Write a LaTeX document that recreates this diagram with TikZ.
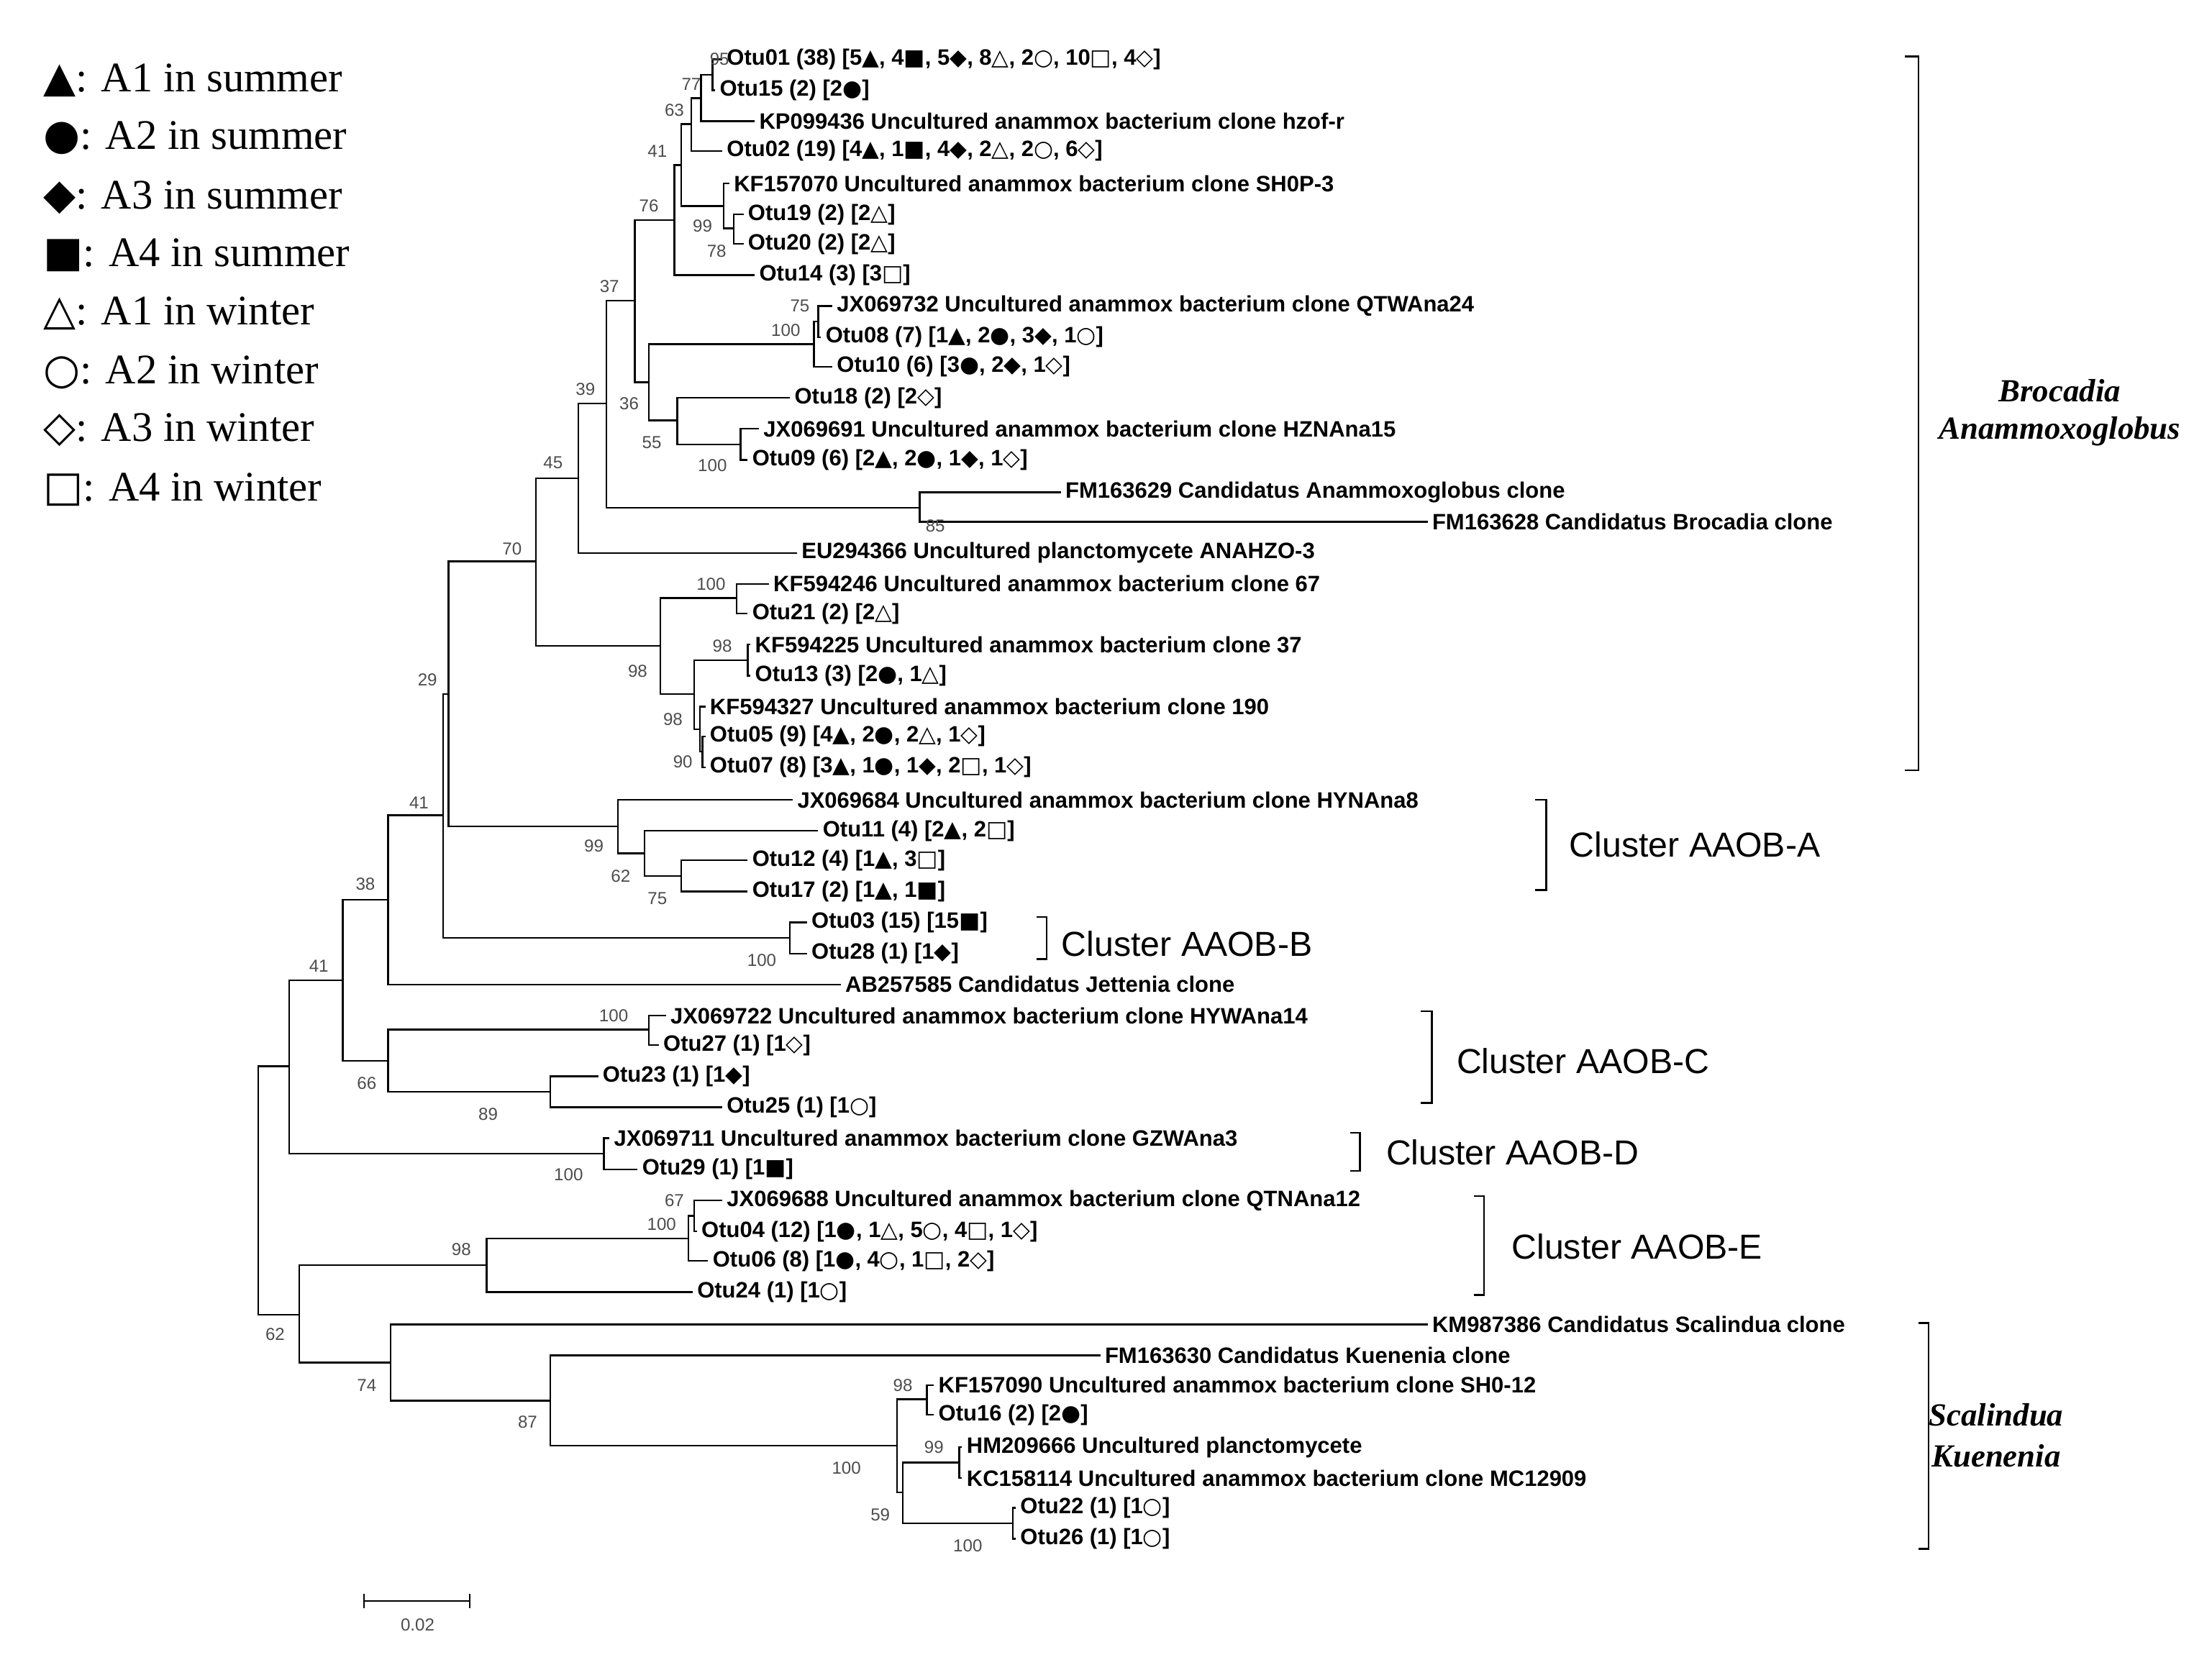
\documentclass[tikz,border=0pt]{standalone}
\usepackage{fontspec}
\setmainfont{Liberation Serif}
\newfontfamily\lbl{Liberation Sans}
\newfontfamily\symf{DejaVu Sans}
\usetikzlibrary{calc}
\newcommand{\trs}{{\symf ▲}}
\newcommand{\cis}{{\symf ●}}
\newcommand{\dis}{{\symf ◆}}
\newcommand{\sqs}{{\symf ■}}
\newcommand{\tro}{{\symf △}}
\newcommand{\cio}{{\symf ○}}
\newcommand{\dio}{{\symf ◇}}
\newcommand{\sqo}{{\symf □}}
\tikzstyle{leaf}=[anchor=west, inner sep=1.5pt, font=\fontsize{9}{10}\selectfont\lbl\bfseries]
\tikzstyle{boot}=[inner sep=0pt, text=black!70, font=\fontsize{7}{8}\selectfont\lbl]
\tikzstyle{legend}=[anchor=west, inner sep=0pt, font=\fontsize{17}{19}\selectfont]
\tikzstyle{clust}=[anchor=west, inner sep=0pt, font=\fontsize{14}{16}\selectfont\lbl]
\tikzstyle{genus}=[inner sep=0pt, font=\fontsize{13}{15}\selectfont\bfseries\itshape]

\begin{document}
\begin{tikzpicture}[x=0.02cm, y=-0.02cm, line width=0.7pt]
  \useasboundingbox (0,0) rectangle (1568,1180);
  % legend
  \node[legend] (g1) at (30,57)  {\trs: A1 in summer};
  \node[legend] (g2) at (30,98)  {\cis: A2 in summer};
  \node[legend] (g3) at (30,140) {\dis: A3 in summer};
  \node[legend] (g4) at (30,181) {\sqs: A4 in summer};
  \node[legend] (g5) at (30,222) {\tro: A1 in winter};
  \node[legend] (g6) at (30,264) {\cio: A2 in winter};
  \node[legend] (g7) at (30,305) {\dio: A3 in winter};
  \node[legend] (g8) at (30,347) {\sqo: A4 in winter};
  % leaves
  \node[leaf] (l1)  at (512,42)  {Otu01 (38) [5\trs, 4\sqs, 5\dis, 8\tro, 2\cio, 10\sqo, 4\dio]};
  \node[leaf] (l2)  at (507,64)  {Otu15 (2) [2\cis]};
  \node[leaf] (l3)  at (535,86)  {KP099436 Uncultured anammox bacterium clone hzof-r};
  \node[leaf] (l4)  at (512,107) {Otu02 (19) [4\trs, 1\sqs, 4\dis, 2\tro, 2\cio, 6\dio]};
  \node[leaf] (l5)  at (517,130) {KF157070 Uncultured anammox bacterium clone SH0P-3};
  \node[leaf] (l6)  at (527,152) {Otu19 (2) [2\tro]};
  \node[leaf] (l7)  at (527,173) {Otu20 (2) [2\tro]};
  \node[leaf] (l8)  at (535,195) {Otu14 (3) [3\sqo]};
  \node[leaf] (l9)  at (590,217) {JX069732 Uncultured anammox bacterium clone QTWAna24};
  \node[leaf] (l10) at (582,239) {Otu08 (7) [1\trs, 2\cis, 3\dis, 1\cio]};
  \node[leaf] (l11) at (590,260) {Otu10 (6) [3\cis, 2\dis, 1\dio]};
  \node[leaf] (l12) at (560,282) {Otu18 (2) [2\dio]};
  \node[leaf] (l13) at (538,304) {JX069691 Uncultured anammox bacterium clone HZNAna15};
  \node[leaf] (l14) at (530,326) {Otu09 (6) [2\trs, 2\cis, 1\dis, 1\dio]};
  \node[leaf] (l15) at (752,349) {FM163629 Candidatus Anammoxoglobus clone};
  \node[leaf] (l16) at (1012,370) {FM163628 Candidatus Brocadia clone};
  \node[leaf] (l17) at (565,392) {EU294366 Uncultured planctomycete ANAHZO-3};
  \node[leaf] (l18) at (545,414) {KF594246 Uncultured anammox bacterium clone 67};
  \node[leaf] (l19) at (530,435) {Otu21 (2) [2\tro]};
  \node[leaf] (l20) at (532,457) {KF594225 Uncultured anammox bacterium clone 37};
  \node[leaf] (l21) at (532,479) {Otu13 (3) [2\cis, 1\tro]};
  \node[leaf] (l22) at (500,501) {KF594327 Uncultured anammox bacterium clone 190};
  \node[leaf] (l23) at (500,522) {Otu05 (9) [4\trs, 2\cis, 2\tro, 1\dio]};
  \node[leaf] (l24) at (500,544) {Otu07 (8) [3\trs, 1\cis, 1\dis, 2\sqo, 1\dio]};
  \node[leaf] (l25) at (562,567) {JX069684 Uncultured anammox bacterium clone HYNAna8};
  \node[leaf] (l26) at (580,589) {Otu11 (4) [2\trs, 2\sqo]};
  \node[leaf] (l27) at (530,610) {Otu12 (4) [1\trs, 3\sqo]};
  \node[leaf] (l28) at (530,632) {Otu17 (2) [1\trs, 1\sqs]};
  \node[leaf] (l29) at (572,654) {Otu03 (15) [15\sqs]};
  \node[leaf] (l30) at (572,676) {Otu28 (1) [1\dis]};
  \node[leaf] (l31) at (596,698) {AB257585 Candidatus Jettenia clone};
  \node[leaf] (l32) at (472,720) {JX069722 Uncultured anammox bacterium clone HYWAna14};
  \node[leaf] (l33) at (467,741) {Otu27 (1) [1\dio]};
  \node[leaf] (l34) at (424,763) {Otu23 (1) [1\dis]};
  \node[leaf] (l35) at (512,785) {Otu25 (1) [1\cio]};
  \node[leaf] (l36) at (432,807) {JX069711 Uncultured anammox bacterium clone GZWAna3};
  \node[leaf] (l37) at (452,829) {Otu29 (1) [1\sqs]};
  \node[leaf] (l38) at (512,851) {JX069688 Uncultured anammox bacterium clone QTNAna12};
  \node[leaf] (l39) at (494,873) {Otu04 (12) [1\cis, 1\tro, 5\cio, 4\sqo, 1\dio]};
  \node[leaf] (l40) at (502,894) {Otu06 (8) [1\cis, 4\cio, 1\sqo, 2\dio]};
  \node[leaf] (l41) at (491,916) {Otu24 (1) [1\cio]};
  \node[leaf] (l42) at (1012,939) {KM987386 Candidatus Scalindua clone};
  \node[leaf] (l43) at (780,961) {FM163630 Candidatus Kuenenia clone};
  \node[leaf] (l44) at (662,982) {KF157090 Uncultured anammox bacterium clone SH0-12};
  \node[leaf] (l45) at (662,1003) {Otu16 (2) [2\cis]};
  \node[leaf] (l46) at (682,1026) {HM209666 Uncultured planctomycete};
  \node[leaf] (l47) at (682,1048) {KC158114 Uncultured anammox bacterium clone MC12909};
  \node[leaf] (l48) at (720,1069) {Otu22 (1) [1\cio]};
  \node[leaf] (l49) at (720,1091) {Otu26 (1) [1\cio]};
  % internal nodes
  \coordinate (nA) at (505,53);   \coordinate (nB) at (497,69.5);
  \coordinate (nC) at (490,88);   \coordinate (nD) at (520,162);
  \coordinate (nE) at (513,146);  \coordinate (nF) at (483,117);
  \coordinate (nG) at (478,156);  \coordinate (nH) at (580,228);
  \coordinate (nI) at (577,244);  \coordinate (nJ) at (525,315);
  \coordinate (nK) at (480,298);  \coordinate (nL) at (460,271);
  \coordinate (nM) at (450,213);  \coordinate (nN) at (652,360);
  \coordinate (nO) at (430,286);  \coordinate (nP) at (410,339);
  \coordinate (nQ) at (522,424);  \coordinate (nR) at (530,468);
  \coordinate (nS1) at (498,533); \coordinate (nS) at (496,517);
  \coordinate (nT) at (492,492);  \coordinate (nU) at (468,458);
  \coordinate (nV) at (380,398);  \coordinate (nW) at (483,621);
  \coordinate (nX) at (457,605);  \coordinate (nY) at (438,586);
  \coordinate (nZ) at (318,492);  \coordinate (nAA) at (560,665);
  \coordinate (nAB) at (314,578); \coordinate (nAC) at (275,638);
  \coordinate (nAD) at (460,730); \coordinate (nAE) at (390,774);
  \coordinate (nAF) at (275,752); \coordinate (nAG) at (243,695);
  \coordinate (nAH) at (428,818); \coordinate (nAI) at (205,756);
  \coordinate (nAJ) at (492,862); \coordinate (nAK) at (488,878);
  \coordinate (nAL) at (345,897); \coordinate (nAR) at (657,992);
  \coordinate (nAT) at (680,1037); \coordinate (nAU) at (718,1080);
  \coordinate (nAS) at (640,1058); \coordinate (nAQ) at (636,1025);
  \coordinate (nAP) at (390,993); \coordinate (nAO) at (277,966);
  \coordinate (nAN) at (212,932); \coordinate (root) at (183,844);
  % branches
  \foreach \p/\c in {nA/l1,nA/l2,nB/nA,nB/l3,nC/nB,nC/l4,nD/l6,nD/l7,nE/l5,nE/nD,
      nF/nC,nF/nE,nG/nF,nG/l8,nH/l9,nH/l10,nI/nH,nI/l11,nJ/l13,nJ/l14,nK/l12,nK/nJ,
      nL/nI,nL/nK,nM/nG,nM/nL,nN/l15,nN/l16,nO/nM,nO/nN,nP/nO,nP/l17,nQ/l18,nQ/l19,
      nR/l20,nR/l21,nS1/l23,nS1/l24,nS/l22,nS/nS1,nT/nR,nT/nS,nU/nQ,nU/nT,nV/nP,nV/nU,
      nW/l27,nW/l28,nX/l26,nX/nW,nY/l25,nY/nX,nZ/nV,nZ/nY,nAA/l29,nAA/l30,nAB/nZ,nAB/nAA,
      nAC/nAB,nAC/l31,nAD/l32,nAD/l33,nAE/l34,nAE/l35,nAF/nAD,nAF/nAE,nAG/nAC,nAG/nAF,
      nAH/l36,nAH/l37,nAI/nAG,nAI/nAH,nAJ/l38,nAJ/l39,nAK/nAJ,nAK/l40,nAL/nAK,nAL/l41,
      nAR/l44,nAR/l45,nAT/l46,nAT/l47,nAU/l48,nAU/l49,nAS/nAT,nAS/nAU,nAQ/nAR,nAQ/nAS,
      nAP/l43,nAP/nAQ,nAO/l42,nAO/nAP,nAN/nAL,nAN/nAO,root/nAI,root/nAN}
    \draw (\p) |- (\c);
  % bootstrap values
  \foreach \n/\x/\y/\v in {b1/510/42/95, b2/490/60/77, b3/478/78/63, b4/466/107/41,
      b5/498/160/99, b6/508/178/78, b7/460/146/76, b8/567/217/75, b9/557/234/100,
      b10/432/203/37, b11/446/286/36, b12/462/314/55, b13/505/330/100, b14/415/276/39,
      b15/663/373/85, b16/392/328/45, b17/504/414/100, b18/512/458/98, b19/477/510/98,
      b20/484/540/90, b21/452/476/98, b22/363/389/70, b23/303/482/29, b24/421/600/99,
      b25/440/621/62, b26/466/637/75, b27/540/681/100, b28/297/569/41, b29/259/627/38,
      b30/435/720/100, b31/260/768/66, b32/346/790/89, b33/226/685/41, b34/403/833/100,
      b35/478/851/67, b36/469/868/100, b37/327/886/98, b38/195/946/62, b39/260/982/74,
      b40/374/1008/87, b41/640/982/98, b42/600/1041/100, b43/662/1026/99,
      b44/624/1074/59, b45/686/1096/100}
    \node[boot] (\n) at (\x,\y) {\v};
  % clusters
  \draw (1350,40) -- (1360,40) -- (1360,546) -- (1350,546);
  \node[genus] (br1) at (1460,277) {Brocadia};
  \node[genus] (br2) at (1460,306) {Anammoxoglobus};
  \draw (1088,567) -- (1096,567) -- (1096,631) -- (1088,631);
  \node[clust] (ca) at (1112,599) {Cluster AAOB-A};
  \draw (735,650) -- (742,650) -- (742,680) -- (735,680);
  \node[clust] (cb) at (752,669) {Cluster AAOB-B};
  \draw (1007,717) -- (1015,717) -- (1015,782) -- (1007,782);
  \node[clust] (cc) at (1032,752) {Cluster AAOB-C};
  \draw (957,803) -- (964,803) -- (964,830) -- (957,830);
  \node[clust] (cd) at (982,817) {Cluster AAOB-D};
  \draw (1045,848) -- (1052,848) -- (1052,918) -- (1045,918);
  \node[clust] (ce) at (1071,884) {Cluster AAOB-E};
  \draw (1360,938) -- (1367,938) -- (1367,1098) -- (1360,1098);
  \node[genus] (sk1) at (1415,1003) {Scalindua};
  \node[genus] (sk2) at (1415,1032) {Kuenenia};
  % scale bar
  \draw (258,1130) -- (258,1140) (258,1135) -- (333,1135) (333,1130) -- (333,1140);
  \node[boot] (sc) at (296,1152) {0.02};
\end{tikzpicture}
\end{document}
